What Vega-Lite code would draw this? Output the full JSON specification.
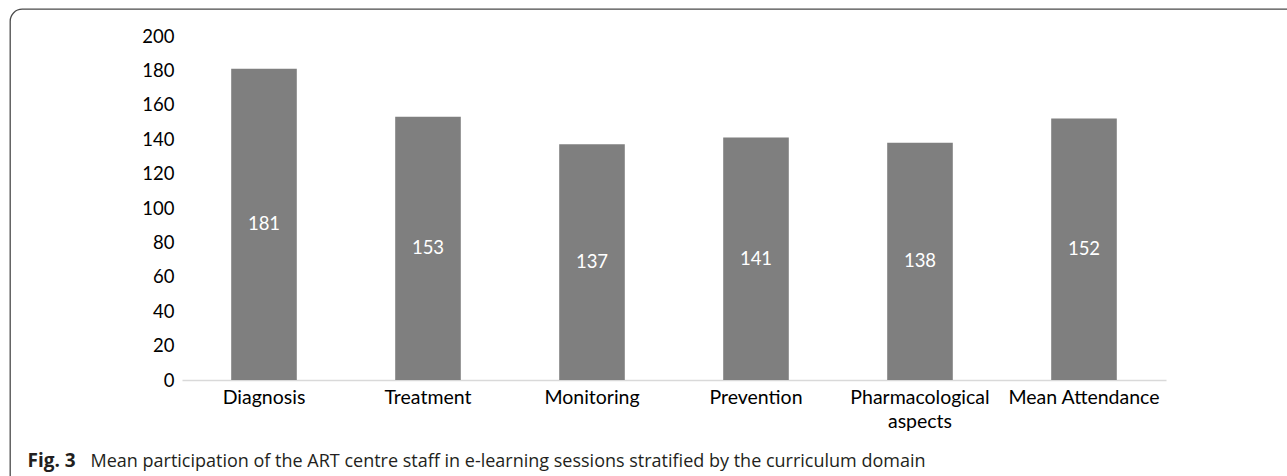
{
  "$schema": "https://vega.github.io/schema/vega-lite/v6.json",
  "width": 1290,
  "height": 480,
  "autosize": "none",
  "padding": {"left": 10, "top": 9, "right": 0, "bottom": 0},
  "background": "white",
  "config": {
    "view": {"stroke": "#4a4a4a", "strokeWidth": 1.3, "cornerRadius": 12},
    "font": "Lato"
  },
  "data": {
    "values": [
      {"domain": "Diagnosis", "value": 181},
      {"domain": "Treatment", "value": 153},
      {"domain": "Monitoring", "value": 137},
      {"domain": "Prevention", "value": 141},
      {"domain": "Pharmacological aspects", "value": 138},
      {"domain": "Mean Attendance", "value": 152}
    ]
  },
  "transform": [{"calculate": "datum.value / 2", "as": "mid"}],
  "encoding": {
    "x": {
      "field": "domain",
      "type": "nominal",
      "sort": null,
      "scale": {"range": [172, 1156], "paddingInner": 0.6, "paddingOuter": 0.3},
      "axis": {
        "orient": "bottom",
        "offset": -109,
        "domainColor": "#d9d9d9",
        "domainWidth": 1.5,
        "ticks": false,
        "labelAngle": 0,
        "labelFont": "Lato",
        "labelFontSize": 19.5,
        "labelColor": "#000000",
        "labelPadding": 8,
        "labelLineHeight": 24,
        "labelExpr": "datum.value == 'Pharmacological aspects' ? ['Pharmacological', 'aspects'] : datum.label",
        "title": "Mean participation of the ART centre staff in e-learning sessions stratified by the curriculum domain",
        "titleFont": "Open Sans",
        "titleFontSize": 18,
        "titleFontWeight": "normal",
        "titleColor": "#231f20",
        "titleAnchor": "start",
        "titleAlign": "left",
        "titleBaseline": "alphabetic",
        "titleX": 80,
        "titleY": 86
      }
    }
  },
  "layer": [
    {
      "mark": {"type": "bar", "color": "#7f7f7f"},
      "encoding": {
        "y": {
          "field": "value",
          "type": "quantitative",
          "scale": {"domain": [0, 200], "range": [371, 27], "nice": false},
          "axis": {
            "orient": "left",
            "offset": -172,
            "values": [0, 20, 40, 60, 80, 100, 120, 140, 160, 180, 200],
            "domain": false,
            "ticks": false,
            "grid": false,
            "labelFont": "Lato",
            "labelFontSize": 18.5,
            "labelColor": "#000000",
            "labelPadding": 8,
            "title": "Fig. 3",
            "titleFont": "Open Sans",
            "titleFontSize": 19,
            "titleFontWeight": "bold",
            "titleColor": "#231f20",
            "titleAngle": 0,
            "titleAlign": "left",
            "titleAnchor": "start",
            "titleBaseline": "alphabetic",
            "titleX": -155,
            "titleY": 457
          }
        }
      }
    },
    {
      "mark": {"type": "text", "color": "#ffffff", "font": "Lato", "fontSize": 18.5, "baseline": "middle", "align": "center"},
      "encoding": {
        "y": {"field": "mid", "type": "quantitative"},
        "text": {"field": "value", "type": "quantitative"}
      }
    }
  ]
}
